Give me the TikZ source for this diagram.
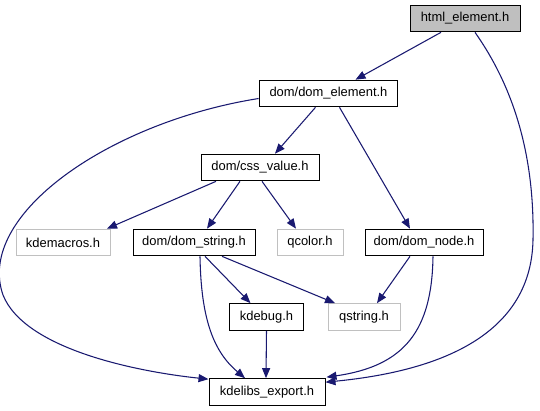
\documentclass[tikz,border=0pt]{standalone}
\usepackage{fontspec}
\setmainfont{Liberation Sans}
\usetikzlibrary{arrows.meta,calc}
\definecolor{edgecol}{HTML}{191970}
\definecolor{greyline}{HTML}{C0C0C0}
\definecolor{headfill}{HTML}{BFBFBF}
\begin{document}
\begin{tikzpicture}[x=0.75pt,y=-0.75pt,
  box/.style={draw=black,line width=0.75pt,fill=white,inner sep=0pt,minimum height=20pt,font=\fontsize{9.7}{11}\selectfont},
  greybox/.style={box,draw=greyline},
  headbox/.style={box,fill=headfill},
  dep/.style={draw=edgecol,line width=0.8pt,-{Triangle[length=7.5pt,width=6pt]},fill=none},
]
\useasboundingbox (0,0) rectangle (540,411);
\node[headbox,minimum width=82.5pt] (html) at (465,18.5) {html\_element.h};
\node[box,minimum width=104pt] (del) at (328.5,93.5) {dom/dom\_element.h};
\node[box,minimum width=88.5pt] (css) at (260,167.5) {dom/css\_value.h};
\node[greybox,minimum width=70.5pt] (kdm) at (63,242.5) {kdemacros.h};
\node[box,minimum width=91.5pt] (dstr) at (194,242.5) {dom/dom\_string.h};
\node[greybox,minimum width=49.5pt] (qcol) at (310,242.5) {qcolor.h};
\node[box,minimum width=88.5pt] (dnode) at (424,242.5) {dom/dom\_node.h};
\node[box,minimum width=56pt] (kdbg) at (266.5,317) {kdebug.h};
\node[greybox,minimum width=54pt] (qstr) at (364,317) {qstring.h};
\node[box,minimum width=87pt] (kexp) at (267,392) {kdelibs\_export.h};

\draw[dep] ($(html.south)+(-24,0)$) -- ($(del.north)+(27,0)$);
\draw[dep] ($(html.south)+(10,0)$) .. controls (505,75) and (535,140) .. (533,240)
  .. controls (531,340) and (430,372) .. ($(kexp.north east)+(0,4)$);
\draw[dep] ($(del.west)+(0,5)$) .. controls (110,122) and (-25,215) .. (3,295)
  .. controls (25,350) and (140,372) .. ($(kexp.north west)+(0,1)$);
\draw[dep] ($(del.south)+(-13,0)$) -- ($(css.north)+(15,0)$);
\draw[dep] ($(del.south)+(11,0)$) -- ($(dnode.north)+(-14,0)$);
\draw[dep] ($(css.south)+(-44,0)$) -- ($(kdm.north)+(44,0)$);
\draw[dep] ($(css.south)+(-20,0)$) -- ($(dstr.north)+(13,0)$);
\draw[dep] ($(css.south)+(2,0)$) -- ($(qcol.north)+(-14,0)$);
\draw[dep] ($(dstr.south)+(11,0)$) -- ($(kdbg.north)+(-16,0)$);
\draw[dep] ($(dstr.south)+(28,0)$) -- ($(qstr.north)+(-29,0)$);
\draw[dep] ($(dstr.south)+(6,0)$) .. controls (201,320) and (214,352) .. ($(kexp.north)+(-22,0)$);
\draw[dep] ($(dnode.south)+(-14,0)$) -- ($(qstr.north)+(13,0)$);
\draw[dep] ($(dnode.south)+(9,0)$) .. controls (432,330) and (405,366) .. ($(kexp.north east)+(1,-1)$);
\draw[dep] (kdbg.south) -- ($(kexp.north)+(-1,0)$);
\end{tikzpicture}
\end{document}
